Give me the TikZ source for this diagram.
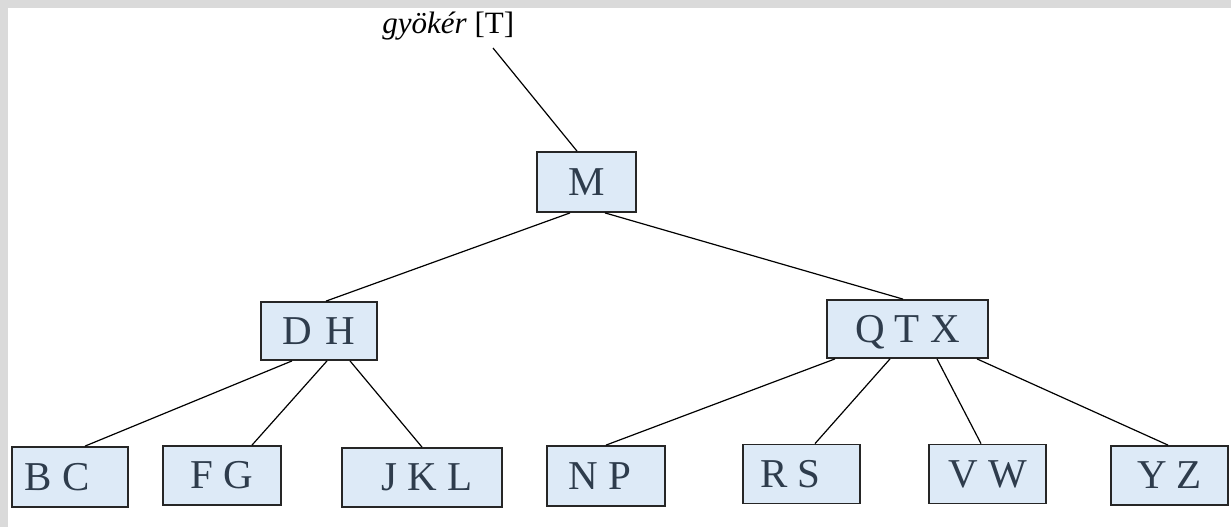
\documentclass[tikz,border=0pt]{standalone}
\usepackage{fontspec}
\setmainfont{Liberation Serif}
\definecolor{bggray}{HTML}{DADADA}
\definecolor{boxfill}{HTML}{DDEAF7}
\definecolor{boxline}{HTML}{262626}
\definecolor{txt}{HTML}{2E3C4C}
\tikzset{
  keybox/.style={draw=boxline, fill=boxfill, line width=0.9pt, inner sep=0pt,
    text=txt, font=\fontsize{20.5}{24}\selectfont, text height=13.4pt, text depth=0pt},
  edge/.style={draw=black, line width=0.6pt},
  rootlbl/.style={font=\fontsize{15.5}{18}\selectfont, text=black, inner sep=0pt}
}
\begin{document}
\begin{tikzpicture}[x=0.5pt,y=-0.5pt]
\useasboundingbox (0,0) rectangle (1231,527);
\fill[bggray] (0,0) rectangle (1231,527);
\fill[white] (8,8) rectangle (1231,527);

\node[rootlbl, anchor=base west] (root) at (382,33) {\textit{gyökér} [T]};
\coordinate (rt) at (493,48);

\node[keybox, minimum width=49.5pt, minimum height=30pt] (M) at (586.5,182) {M};
\node[keybox, minimum width=58pt, minimum height=29pt] (DH) at (319,331) {D\hspace{0.33em}H};
\node[keybox, minimum width=80.5pt, minimum height=29pt] (QTX) at (907.5,329) {Q T X};
\node[keybox, minimum width=58pt, minimum height=30pt] (BC) at (70,477) {B C\hspace*{13pt}};
\node[keybox, minimum width=59pt, minimum height=29.5pt] (FG) at (222,475.5) {F G};
\node[keybox, minimum width=80pt, minimum height=29.5pt] (JKL) at (422,477.5) {\hspace*{5pt}J K L};
\node[keybox, minimum width=59pt, minimum height=30pt] (NP) at (606,476) {N P\hspace*{6pt}};
\node[keybox, minimum width=58.5pt, minimum height=29.5pt] (RS) at (801.5,474) {R S\hspace*{11pt}};
\node[keybox, minimum width=58.5pt, minimum height=29.5pt] (VW) at (987.5,474) {V W};
\node[keybox, minimum width=58.5pt, minimum height=29.5pt] (YZ) at (1169.5,475.5) {Y Z};

\draw[edge] (rt) -- ([xshift=-4.75pt]M.north);
\draw[edge] ([xshift=-8.25pt]M.south) -- ([xshift=3.5pt]DH.north);
\draw[edge] ([xshift=9.25pt]M.south) -- ([xshift=-2.25pt]QTX.north);
\draw[edge] ([xshift=-13.5pt]DH.south) -- ([xshift=7.5pt]BC.north);
\draw[edge] ([xshift=4pt]DH.south) -- ([xshift=15pt]FG.north);
\draw[edge] ([xshift=15.5pt]DH.south) -- (JKL.north);
\draw[edge] ([xshift=-36.25pt]QTX.south) -- (NP.north);
\draw[edge] ([xshift=-8.75pt]QTX.south) -- ([xshift=6.75pt]RS.north);
\draw[edge] ([xshift=14.75pt]QTX.south) -- ([xshift=-3.25pt]VW.north);
\draw[edge] ([xshift=34.75pt]QTX.south) -- ([xshift=-0.75pt]YZ.north);
\end{tikzpicture}
\end{document}
